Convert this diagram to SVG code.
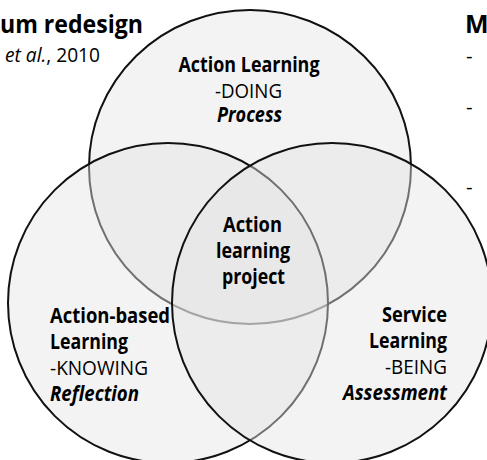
<svg xmlns="http://www.w3.org/2000/svg" width="487" height="460" viewBox="0 0 487 460">
<style>
.c{fill:#e4e4e4;fill-opacity:0.45;stroke:#111;stroke-width:2}
text{font-family:"Open Sans","Noto Sans",sans-serif;font-size:20.5px;fill:#000}
.b{font-weight:bold}
.bi{font-weight:bold;font-style:italic}
.m{text-anchor:middle}
.e{text-anchor:end}
.h{font-size:25px;font-weight:bold}
</style>
<rect width="487" height="460" fill="#fff"/>
<g id="title">
<text class="h" x="0" y="33" textLength="143" lengthAdjust="spacingAndGlyphs">um redesign</text>
<text x="5" y="62" textLength="95" lengthAdjust="spacingAndGlyphs"><tspan font-style="italic">et al.</tspan>, 2010</text>
</g>
<g id="side">
<text class="h" x="465" y="33">M</text>
<text x="466" y="63">-</text>
<text x="466" y="114">-</text>
<text x="466" y="194">-</text>
</g>
<g id="shapes">
<ellipse id="circle-top" class="c" cx="250" cy="167" rx="161" ry="157"/>
<circle id="circle-left" class="c" cx="168" cy="303" r="160"/>
<circle id="circle-right" class="c" cx="332" cy="303" r="160"/>
</g>
<g id="connectors"></g>
<g id="action-learning">
<text class="b m" x="249" y="72" textLength="141" lengthAdjust="spacingAndGlyphs">Action Learning</text>
<text class="m" x="248.5" y="98" textLength="67" lengthAdjust="spacingAndGlyphs">-DOING</text>
<text class="bi m" x="249.5" y="122" textLength="65" lengthAdjust="spacingAndGlyphs">Process</text>
</g>
<g id="action-learning-project">
<text class="b m" x="252.5" y="232" textLength="59" lengthAdjust="spacingAndGlyphs">Action</text>
<text class="b m" x="253" y="258" textLength="74" lengthAdjust="spacingAndGlyphs">learning</text>
<text class="b m" x="253.5" y="284" textLength="63" lengthAdjust="spacingAndGlyphs">project</text>
</g>
<g id="action-based-learning">
<text class="b" x="50" y="323" textLength="120" lengthAdjust="spacingAndGlyphs">Action-based</text>
<text class="b" x="50" y="349" textLength="78" lengthAdjust="spacingAndGlyphs">Learning</text>
<text x="50" y="375" textLength="98" lengthAdjust="spacingAndGlyphs">-KNOWING</text>
<text class="bi" x="50" y="401" textLength="89" lengthAdjust="spacingAndGlyphs">Reflection</text>
</g>
<g id="service-learning">
<text class="b e" x="447" y="322" textLength="65" lengthAdjust="spacingAndGlyphs">Service</text>
<text class="b e" x="447" y="348" textLength="78" lengthAdjust="spacingAndGlyphs">Learning</text>
<text class="e" x="447" y="374" textLength="62" lengthAdjust="spacingAndGlyphs">-BEING</text>
<text class="bi e" x="447" y="400" textLength="104" lengthAdjust="spacingAndGlyphs">Assessment</text>
</g>
</svg>
